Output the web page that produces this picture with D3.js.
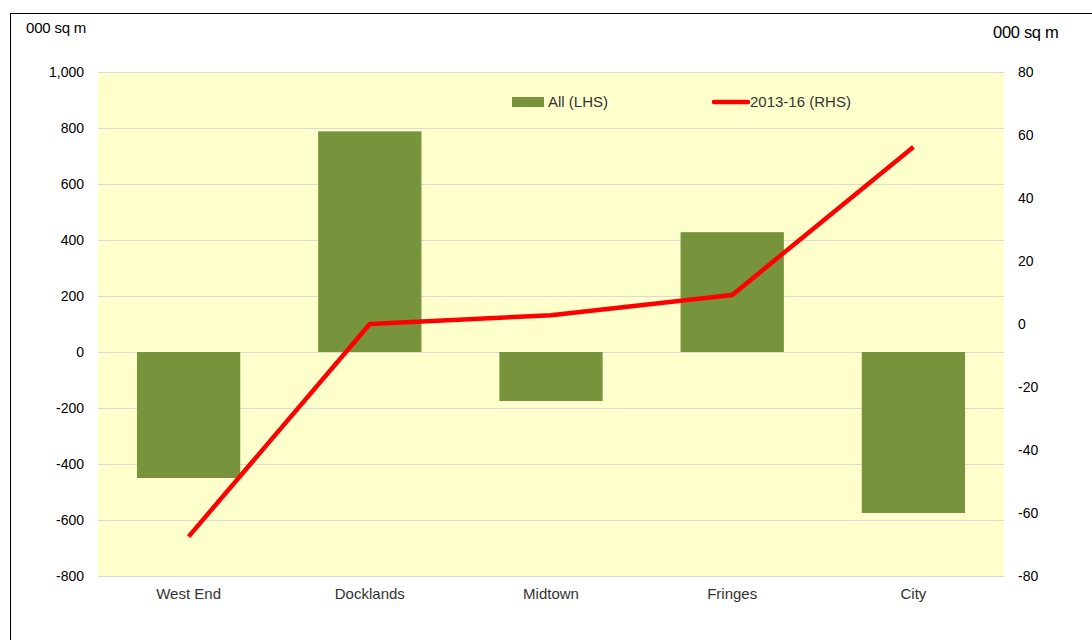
<!DOCTYPE html>
<html><head><meta charset="utf-8">
<script src="https://cdn.jsdelivr.net/npm/d3@7"></script>
<style>body{margin:0;background:#fff}svg{display:block}</style>
</head><body>
<script>
const categories = ["West End","Docklands","Midtown","Fringes","City"];
const allLHS = [-450, 788, -175, 428, -575];
const rhs201316 = [-67.5, 0, 2.8, 9.2, 56.2];
const leftTicks = [-800,-600,-400,-200,0,200,400,600,800,1000];
const rightTicks = [-80,-60,-40,-20,0,20,40,60,80];

const W=1092,H=640;
const svg=d3.select("body").append("svg").attr("width",W).attr("height",H);
const m={l:98,r:1004,t:72,b:576};
svg.append("rect").attr("x",10.5).attr("y",13.5).attr("width",1100).attr("height",700).attr("fill","none").attr("stroke","#000").attr("stroke-width",1);
svg.append("rect").attr("x",m.l).attr("y",m.t).attr("width",m.r-m.l).attr("height",m.b-m.t).attr("fill","#FFFFCC");

const x=d3.scaleBand().domain(categories).range([m.l,m.r]).paddingInner(0.43).paddingOuter(0.215);
const yL=d3.scaleLinear().domain([-800,1000]).range([m.b,m.t]);
const yR=d3.scaleLinear().domain([-80,80]).range([m.b,m.t]);

svg.append("g").selectAll("line").data(leftTicks).join("line")
 .attr("x1",m.l).attr("x2",m.r).attr("y1",d=>Math.round(yL(d))+0.5).attr("y2",d=>Math.round(yL(d))+0.5)
 .attr("stroke","#D9D9D9").attr("stroke-width",1);

svg.append("g").selectAll("rect").data(allLHS).join("rect")
 .attr("x",(d,i)=>x(categories[i])).attr("width",x.bandwidth())
 .attr("y",d=>yL(Math.max(0,d))).attr("height",d=>Math.abs(yL(d)-yL(0)))
 .attr("fill","#77933C");

const line=d3.line().x((d,i)=>x(categories[i])+x.bandwidth()/2).y(d=>yR(d));
svg.append("path").datum(rhs201316).attr("d",line).attr("fill","none").attr("stroke","#FF0000").attr("stroke-width",4.5).attr("stroke-linejoin","round");

const font="Liberation Sans, Arial, sans-serif";
const hy=f=>d=>f(d).replace("\u2212","-");
const axL=d3.axisLeft(yL).tickValues(leftTicks).tickFormat(hy(d3.format(","))).tickSize(0).tickPadding(14);
const gL=svg.append("g").attr("transform",`translate(${m.l},0)`).call(axL);
gL.select(".domain").remove();
gL.selectAll("text").attr("font-family",font).attr("font-size",14).attr("fill","#000");

const axR=d3.axisRight(yR).tickValues(rightTicks).tickFormat(hy(d3.format("d"))).tickSize(0).tickPadding(14);
const gR=svg.append("g").attr("transform",`translate(${m.r},0)`).call(axR);
gR.select(".domain").remove();
gR.selectAll("text").attr("font-family",font).attr("font-size",14).attr("fill","#000");

const axB=d3.axisBottom(x).tickSize(0).tickPadding(12);
const gB=svg.append("g").attr("transform",`translate(0,${m.b})`).call(axB);
gB.select(".domain").remove();
gB.selectAll("text").attr("font-family",font).attr("font-size",15).attr("fill","#333");

svg.append("text").attr("x",26).attr("y",33).attr("font-family",font).attr("font-size",15).attr("letter-spacing",-0.2).text("000 sq m");
svg.append("text").attr("x",993).attr("y",38).attr("font-family",font).attr("font-size",16.5).attr("letter-spacing",-0.3).text("000 sq m");

// legend
const lg=svg.append("g");
lg.append("rect").attr("x",512).attr("y",97).attr("width",32).attr("height",10).attr("fill","#77933C");
lg.append("text").attr("x",548).attr("y",107).attr("font-family",font).attr("font-size",15).attr("fill","#333").text("All (LHS)");
lg.append("line").attr("x1",714).attr("x2",748).attr("y1",102).attr("y2",102).attr("stroke","#FF0000").attr("stroke-width",4.5).attr("stroke-linecap","round");
lg.append("text").attr("x",750).attr("y",107).attr("font-family",font).attr("font-size",15).attr("fill","#333").text("2013-16 (RHS)");
</script>
</body></html>
